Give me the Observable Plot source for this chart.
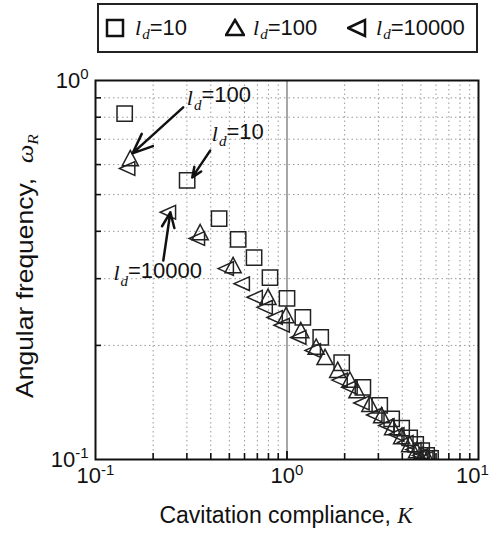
<!DOCTYPE html>
<html><head><meta charset="utf-8">
<script src="https://cdn.jsdelivr.net/npm/d3@7"></script>
<script src="https://cdn.jsdelivr.net/npm/@observablehq/plot@0.6"></script>
<style>
body{margin:0;background:#fff;font-family:"Liberation Sans",Arial,sans-serif;color:#111;}
#wrap{position:relative;width:492px;height:535px;overflow:hidden;}
#legend{position:absolute;left:97px;top:3px;width:377px;height:46px;border:2px solid #222;}
.li{position:absolute;top:0;height:46px;display:flex;align-items:center;font-size:22px;white-space:nowrap;}
.it{font-family:"Liberation Serif",serif;font-style:italic;margin-right:1px;}
.sub{font-family:"Liberation Serif",serif;font-style:italic;font-size:15px;position:relative;top:6px;}
#chart{position:absolute;left:0;top:55px;}
</style></head>
<body>
<div id="wrap">
  <div id="legend"></div>
  <div id="chart"></div>
</div>
<script>
// ---- data ----
const seriesNames = ["10", "100", "10000"];
// l_d = 10 (squares)
const K_10 = [0.142, 0.301, 0.442, 0.556, 0.673, 0.815, 1.0, 1.21, 1.50, 1.93, 2.49, 3.05, 3.52, 3.97, 4.37, 4.70, 5.05, 5.36, 5.62];
const W_10 = [0.818, 0.545, 0.432, 0.381, 0.341, 0.302, 0.266, 0.237, 0.210, 0.180, 0.155, 0.139, 0.128, 0.121, 0.114, 0.1096, 0.1056, 0.1025, 0.1006];
// l_d = 100 (triangles)
const K_100 = [0.152, 0.352, 0.523, 0.796, 0.989, 1.18, 1.42, 1.58, 1.84, 2.13, 2.32, 2.71, 3.12, 3.56, 3.97, 4.37, 4.75, 5.11, 5.42];
const W_100 = [0.623, 0.397, 0.325, 0.268, 0.240, 0.219, 0.198, 0.186, 0.172, 0.162, 0.152, 0.140, 0.1306, 0.1215, 0.115, 0.1096, 0.1056, 0.1025, 0.1006];
// l_d = 10000 (left triangles)
const K_10000 = [0.147, 0.240, 0.340, 0.481, 0.583, 0.681, 0.768, 0.866, 0.942, 1.15, 1.37, 1.89, 2.13, 2.46, 2.87, 3.32, 3.74, 4.17, 4.59, 4.99, 5.30];
const W_10000 = [0.586, 0.449, 0.383, 0.319, 0.291, 0.268, 0.252, 0.237, 0.226, 0.210, 0.194, 0.162, 0.155, 0.141, 0.131, 0.123, 0.1164, 0.111, 0.1062, 0.1025, 0.1006];

const xMajor = [0.1, 1, 10];
const xMinor = [0.2, 0.3, 0.4, 0.5, 0.6, 0.7, 0.8, 0.9, 2, 3, 4, 5, 6, 7, 8, 9];
const yMajor = [0.1, 1];
const yMinor = [0.2, 0.3, 0.4, 0.5, 0.6, 0.7, 0.8, 0.9];
const tickLabels = {0.1: "10^-1", 1: "10^0", 10: "10^1"};

// annotations (data coordinates)
const noteLabels = ["ld=100", "ld=10", "ld=10000"];
const noteK = [0.300, 0.405, 0.124];
const noteW = [0.902, 0.722, 0.310];
const arrowK1 = [0.287, 0.397, 0.226];
const arrowW1 = [0.849, 0.653, 0.335];
const arrowK2 = [0.156, 0.320, 0.246];
const arrowW2 = [0.642, 0.555, 0.449];

// ---- build tables ----
const rows = (K, W, s) => K.map((k, i) => ({K: k, W: W[i], s}));
const data10 = rows(K_10, W_10, seriesNames[0]);
const data100 = rows(K_100, W_100, seriesNames[1]);
const data10000 = rows(K_10000, W_10000, seriesNames[2]);
const notes = noteLabels.map((t, i) => ({t, K: noteK[i], W: noteW[i]}));
const arrows = arrowK1.map((k, i) => ({x1: k, y1: arrowW1[i], x2: arrowK2[i], y2: arrowW2[i]}));

// custom symbols
const symSquare = {draw(c, size){ const h = Math.sqrt(size/Math.PI)*0.9; c.moveTo(-h,-h); c.lineTo(h,-h); c.lineTo(h,h); c.lineTo(-h,h); c.closePath(); }};
const symUp = {draw(c, size){ const h = Math.sqrt(size/Math.PI)*0.95; c.moveTo(0,-h); c.lineTo(h,h*0.9); c.lineTo(-h,h*0.9); c.closePath(); }};
const symLeft = {draw(c, size){ const h = Math.sqrt(size/Math.PI)*0.95; c.moveTo(-h,0); c.lineTo(h*0.9,-h*0.85); c.lineTo(h*0.9,h*0.85); c.closePath(); }};

const W = 492, H = 480, mL = 95, mR = 14, mT = 25, mB = 76;
const fw = W - mL - mR, fh = H - mT - mB;
const dotOpts = {x: "K", y: "W", r: 8.5, stroke: "#222", strokeWidth: 1.5, fill: "none", clip: true};

const svg = Plot.plot({
  width: W, height: H, marginLeft: mL, marginRight: mR, marginTop: mT, marginBottom: mB,
  style: {fontFamily: "Liberation Sans, Arial, sans-serif", background: "white", color: "#111"},
  x: {type: "log", domain: [0.1, 10]},
  y: {type: "log", domain: [0.1, 1]},
  marks: [
    Plot.ruleX(xMinor, {stroke: "#999", strokeDasharray: "1.5,3", strokeWidth: 1}),
    Plot.ruleY(yMinor, {stroke: "#999", strokeDasharray: "1.5,3", strokeWidth: 1}),
    Plot.ruleX([1], {stroke: "#777", strokeWidth: 1.3}),
    Plot.tickX(xMinor, {insetTop: fh - 6, stroke: "#111", strokeWidth: 1.6}),
    Plot.tickX([1], {insetTop: fh - 8, stroke: "#111", strokeWidth: 1.8}),
    Plot.tickY(yMinor, {insetRight: fw - 6, stroke: "#111", strokeWidth: 1.6}),
    Plot.axisX(xMajor, {tickSize: 0, tickPadding: 8, fontSize: 23, tickFormat: d => tickLabels[d], label: null}),
    Plot.axisY(yMajor, {tickSize: 0, tickPadding: 7, fontSize: 23, tickFormat: d => tickLabels[d], label: null}),
    Plot.dot(data10, {...dotOpts, symbol: symSquare}),
    Plot.dot(data100, {...dotOpts, symbol: symUp}),
    Plot.dot(data10000, {...dotOpts, symbol: symLeft}),
    Plot.arrow(arrows, {x1: "x1", y1: "y1", x2: "x2", y2: "y2", stroke: "#111", strokeWidth: 2.5, headLength: 13, headAngle: 45}),
    Plot.text(notes, {x: "K", y: "W", text: "t", textAnchor: "start", fontSize: 22, fill: "#111"}),
    Plot.frame({stroke: "#111", strokeWidth: 2})
  ]
});

const S = d3.select(svg);
S.selectAll("text").each(function(){
  const t = this.textContent;
  const s = d3.select(this);
  let m = /^10\^(.+)$/.exec(t);
  if (m) {
    s.text("10").attr("font-size", "22px").style("font-size", "22px");
    if (m[1] === "1") s.attr("dx", -6);
    s.append("tspan").attr("dy", "-0.55em").style("font-size", "15px").text(m[1]);
    return;
  }
  m = /^ld=(.+)$/.exec(t);
  if (m) {
    s.text("");
    s.append("tspan").attr("font-family", "Liberation Serif, serif").attr("font-style", "italic").text("l");
    s.append("tspan").attr("font-family", "Liberation Serif, serif").attr("font-style", "italic").style("font-size", "15px").attr("dx", "1").attr("dy", "0.35em").text("d");
    s.append("tspan").attr("dy", "-0.35em").text("=" + m[1]);
  }
});

// axis titles
const xl = S.append("text").attr("x", 286).attr("y", 468).attr("text-anchor", "middle").style("font-size", "23px").attr("fill", "#111");
xl.append("tspan").text("Cavitation compliance, ");
xl.append("tspan").attr("font-family", "Liberation Serif, serif").attr("font-style", "italic").text("K");
const yl = S.append("text").attr("transform", "translate(33,211) rotate(-90) scale(1.15,1)").attr("text-anchor", "middle").style("font-size", "23px").attr("fill", "#111");
yl.append("tspan").text("Angular frequency,  ");
yl.append("tspan").attr("font-family", "Liberation Serif, serif").attr("font-style", "italic").text("ω");
yl.append("tspan").attr("font-family", "Liberation Serif, serif").attr("font-style", "italic").style("font-size", "15px").attr("dy", "0.35em").text("R");

document.getElementById("chart").appendChild(svg);

// legend
const legendItems = [
  {name: seriesNames[0], left: 6, text: 36, path: "M2,2H18V18H2Z"},
  {name: seriesNames[1], left: 126, text: 154, path: "M10,2L19,17H1Z"},
  {name: seriesNames[2], left: 248, text: 277, path: "M1,10L18,2V18Z"}
];
const leg = d3.select("#legend");
legendItems.forEach(it => {
  leg.append("div").attr("class", "li").style("left", it.left + "px")
    .html(`<svg width="20" height="20"><path d="${it.path}" fill="none" stroke="#111" stroke-width="2.5" stroke-linejoin="miter"/></svg>`);
  leg.append("div").attr("class", "li").style("left", it.text + "px")
    .html(`<span class="it">l</span><span class="sub">d</span>=${it.name}`);
});
</script>
</body></html>
